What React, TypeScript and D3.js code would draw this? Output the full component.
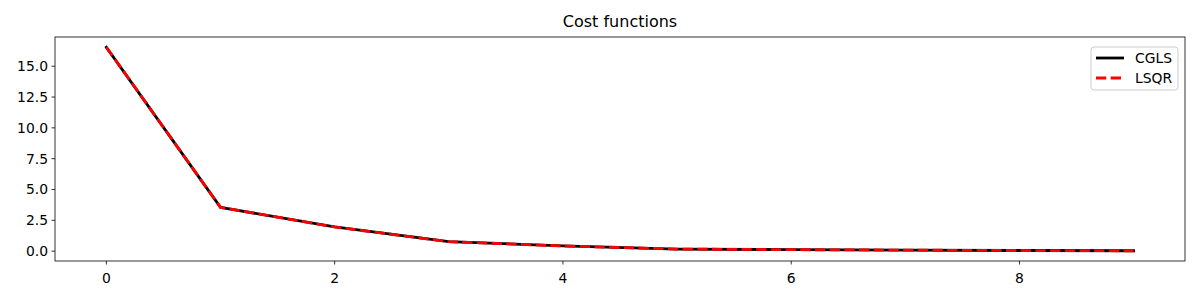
import * as d3 from 'd3';

// iteration index and cost values for each solver
const iterations = [0, 1, 2, 3, 4, 5, 6, 7, 8, 9];
const cglsCost = [16.54, 3.55, 1.96, 0.77, 0.42, 0.17, 0.12, 0.08, 0.05, 0.03];
const lsqrCost = [16.54, 3.55, 1.96, 0.77, 0.42, 0.17, 0.12, 0.08, 0.05, 0.03];
const xTicks = [0, 2, 4, 6, 8];
const yTicks = [0, 2.5, 5, 7.5, 10, 12.5, 15];

const width = 1200;
const height = 300;
const margin = { top: 37, right: 15, bottom: 39, left: 55 };
const font = '"DejaVu Sans", sans-serif';

export default function App() {
  const innerW = width - margin.left - margin.right;
  const innerH = height - margin.top - margin.bottom;

  const x = d3.scaleLinear().domain([-0.45, 9.45]).range([0, innerW]);
  const y = d3.scaleLinear().domain([-0.8, 17.37]).range([innerH, 0]);

  const line = d3.line<number>()
    .x((_, i) => x(iterations[i]))
    .y(d => y(d));

  return (
    <svg
      width={width}
      height={height}
      style={{ position: 'absolute', left: 0, top: 0, background: '#fff' }}
      fontFamily={font}
    >
      <text x={margin.left + innerW / 2} y={27} textAnchor="middle" fontSize={16} fill="#000">
        Cost functions
      </text>
      <g transform={`translate(${margin.left},${margin.top})`}>
        <path d={line(cglsCost) ?? ''} fill="none" stroke="#000" strokeWidth={2.8} strokeLinejoin="round" strokeLinecap="square" />
        <path d={line(lsqrCost) ?? ''} fill="none" stroke="#ff0000" strokeWidth={2.8} strokeDasharray="10.3,4.4" />

        {/* x axis */}
        {xTicks.map(t => (
          <g key={t} transform={`translate(${x(t)},${innerH})`}>
            <line y2={3.5} stroke="#000" strokeWidth={0.8} />
            <text y={18} textAnchor="middle" fontSize={13.9} fill="#000" dominantBaseline="middle">{t}</text>
          </g>
        ))}
        {/* y axis */}
        {yTicks.map(t => (
          <g key={t} transform={`translate(0,${y(t)})`}>
            <line x2={-3.5} stroke="#000" strokeWidth={0.8} />
            <text x={-7} textAnchor="end" fontSize={13.9} fill="#000" dominantBaseline="central">{t.toFixed(1)}</text>
          </g>
        ))}
        <rect x={0} y={0} width={innerW} height={innerH} fill="none" stroke="#000" strokeWidth={0.8} />

        {/* legend */}
        <g transform={`translate(${innerW - 94},${10})`}>
          <rect x={0} y={0} width={87} height={43} rx={3} fill="#fff" fillOpacity={0.8} stroke="#ccc" strokeWidth={1} />
          <line x1={5} x2={33} y1={11} y2={11} stroke="#000" strokeWidth={2.8} />
          <text x={44} y={11} fontSize={13.9} dominantBaseline="central" fill="#000">CGLS</text>
          <line x1={5} x2={33} y1={31} y2={31} stroke="#ff0000" strokeWidth={2.8} strokeDasharray="10.3,4.4" />
          <text x={44} y={31} fontSize={13.9} dominantBaseline="central" fill="#000">LSQR</text>
        </g>
      </g>
    </svg>
  );
}
